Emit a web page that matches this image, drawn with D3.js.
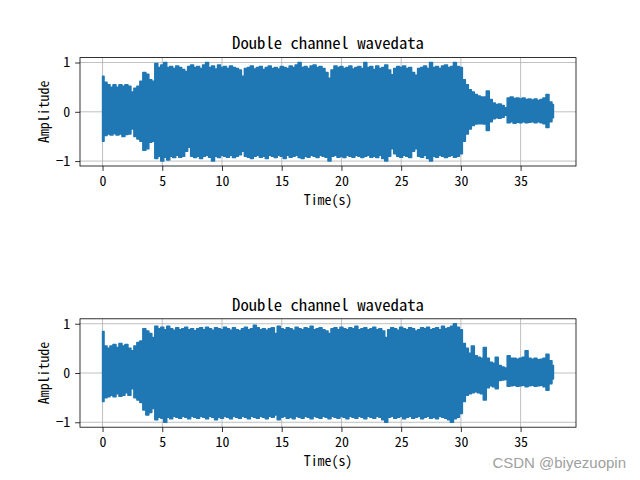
<!DOCTYPE html>
<html><head><meta charset="utf-8">
<script src="https://cdn.jsdelivr.net/npm/d3@7"></script>
<style>
html,body{margin:0;padding:0;background:#fff;}
svg{display:block;}
text{font-family:"Noto Sans Mono CJK SC","Noto Sans CJK SC","Liberation Mono",monospace;}
</style></head><body>
<svg id="chart" width="640" height="480"></svg>
<script>
// Envelope of the waveform, one value every 0.25 s (4 per line = 1 s)
const sampleStep = 0.25;
const ch1Upper = [
 0.72,0.60,0.55,0.50, 0.55,0.50,0.55,0.52, 0.55,0.52,0.40,0.48, 0.52,0.62,0.80,0.76,
 0.65,0.62,0.98,0.90, 0.95,1.00,0.90,0.92, 0.88,0.93,0.90,0.86, 0.82,0.92,0.95,0.90,
 0.92,0.88,0.95,1.00, 0.90,0.93,0.87,0.95, 0.90,0.92,0.88,0.93, 0.90,0.88,0.85,0.72,
 0.88,0.90,0.93,0.87, 0.90,0.92,0.86,0.90, 0.93,0.88,0.90,0.87, 0.92,0.90,0.88,0.93,
 0.90,0.95,1.00,0.90, 0.92,0.88,0.93,0.95, 0.90,0.92,0.88,0.80, 0.68,0.85,0.93,0.90,
 0.92,0.88,0.90,0.93, 0.87,0.90,0.92,0.88, 1.00,0.90,0.92,0.86, 0.93,0.88,0.90,0.95,
 0.85,0.75,0.88,0.92, 0.90,0.93,0.88,0.90, 0.80,0.74,0.88,0.90, 0.93,0.88,1.00,0.90,
 0.92,0.88,0.93,0.95, 0.90,0.92,1.00,0.92, 0.90,0.65,0.55,0.45, 0.40,0.35,0.32,0.30,
 0.30,0.42,0.25,0.18, 0.15,0.16,0.13,0.08, 0.28,0.30,0.27,0.28, 0.26,0.28,0.25,0.26,
 0.24,0.26,0.23,0.25, 0.28,0.35,0.20,0.15
];
const ch1Lower = [
 -0.60,-0.48,-0.45,-0.47, -0.44,-0.47,-0.45,-0.50, -0.46,-0.45,-0.35,-0.50, -0.55,-0.60,-0.78,-0.75,
 -0.62,-0.60,-0.95,-0.90, -1.00,-0.92,-0.98,-0.90, -0.93,-0.88,-0.92,-0.90, -0.80,-0.72,-0.90,-0.93,
 -0.90,-0.95,-0.90,-0.88, -0.92,-1.00,-0.90,-0.93, -0.88,-0.90,-0.92,-0.88, -0.93,-0.90,-0.87,-0.80,
 -0.90,-0.92,-0.95,-0.90, -0.88,-0.92,-0.90,-0.95, -0.88,-0.90,-0.93,-0.88, -0.90,-0.95,-0.88,-0.92,
 -0.90,-0.88,-0.93,-0.95, -0.90,-0.92,-0.88,-0.90, -0.93,-0.88,-0.90,-0.92, -1.00,-0.90,-0.88,-0.92,
 -0.90,-0.93,-0.88,-0.90, -0.92,-0.88,-0.90,-0.93, -0.90,-0.88,-0.92,-0.90, -0.93,-0.88,-0.95,-1.00,
 -0.90,-0.75,-0.85,-0.90, -0.92,-0.88,-0.90,-0.93, -0.80,-0.75,-0.90,-0.92, -0.88,-0.95,-1.00,-0.90,
 -0.92,-0.88,-0.90,-0.93, -0.90,-0.88,-0.92,-0.90, -0.85,-0.60,-0.45,-0.35, -0.28,-0.25,-0.24,-0.24,
 -0.25,-0.38,-0.20,-0.14, -0.12,-0.13,-0.11,-0.07, -0.22,-0.20,-0.23,-0.21, -0.22,-0.20,-0.22,-0.21,
 -0.20,-0.22,-0.20,-0.22, -0.24,-0.32,-0.20,-0.12
];
const ch2Upper = [
 0.84,0.55,0.50,0.55, 0.58,0.52,0.60,0.55, 0.58,0.50,0.45,0.55, 0.62,0.65,0.90,0.85,
 0.80,0.72,0.95,0.90, 0.93,0.88,0.95,0.90, 0.87,0.92,0.88,0.90, 0.93,0.88,0.90,0.86,
 0.90,0.92,0.88,0.93, 0.90,0.87,0.92,0.90, 0.88,0.93,0.90,0.87, 0.92,0.88,0.86,0.90,
 0.93,0.88,0.90,0.97, 0.92,0.88,0.90,0.87, 0.90,0.92,0.80,0.95, 0.90,0.88,0.92,0.90,
 0.87,0.93,0.90,0.88, 0.92,0.90,0.95,0.88, 0.90,0.92,0.88,0.85, 0.80,0.90,0.92,0.88,
 0.93,0.90,0.88,0.92, 0.90,0.95,0.88,0.90, 0.92,0.88,0.90,0.93, 0.88,0.90,0.85,0.72,
 0.88,0.92,0.90,0.87, 0.93,0.90,0.88,0.92, 0.90,0.85,0.88,0.92, 0.90,0.93,0.88,0.90,
 0.92,0.88,0.95,0.90, 0.92,0.95,1.00,0.93, 0.88,0.60,0.50,0.40, 0.55,0.35,0.32,0.30,
 0.52,0.30,0.22,0.20, 0.32,0.15,0.12,0.10, 0.35,0.30,0.30,0.28, 0.30,0.32,0.45,0.30,
 0.28,0.30,0.27,0.28, 0.30,0.38,0.25,0.15
];
const ch2Lower = [
 -0.58,-0.50,-0.48,-0.45, -0.48,-0.42,-0.47,-0.45, -0.40,-0.45,-0.32,-0.50, -0.55,-0.60,-0.75,-0.85,
 -0.80,-0.72,-0.95,-0.90, -0.92,-1.00,-0.90,-0.93, -0.88,-0.90,-0.92,-0.88, -0.90,-0.93,-0.88,-0.90,
 -0.92,-0.88,-0.90,-0.93, -0.88,-0.90,-0.95,-0.90, -0.92,-0.88,-0.90,-0.93, -0.88,-0.90,-0.92,-0.88,
 -0.90,-0.93,-0.88,-0.90, -0.92,-0.88,-0.90,-0.93, -0.88,-0.90,-0.85,-0.95, -0.90,-0.88,-0.92,-0.90,
 -0.93,-0.88,-0.90,-0.92, -0.88,-0.90,-0.93,-0.88, -0.90,-0.92,-0.88,-0.90, -0.93,-0.88,-0.90,-0.92,
 -0.88,-0.90,-0.93,-0.88, -0.90,-0.92,-0.88,-0.90, -0.93,-0.88,-0.90,-0.92, -0.88,-0.90,-0.95,-1.00,
 -0.90,-0.88,-0.92,-0.90, -0.88,-0.93,-0.90,-0.88, -0.92,-0.90,-0.88,-0.93, -0.90,-0.88,-0.92,-0.90,
 -0.93,-0.88,-0.90,-0.92, -0.95,-1.00,-0.93,-0.90, -0.82,-0.58,-0.45,-0.42, -0.40,-0.38,-0.40,-0.42,
 -0.55,-0.30,-0.26,-0.28, -0.32,-0.15,-0.14,-0.13, -0.27,-0.26,-0.25,-0.27, -0.26,-0.25,-0.28,-0.26,
 -0.25,-0.27,-0.26,-0.25, -0.28,-0.35,-0.22,-0.12
];
const xTicks = [0,5,10,15,20,25,30,35];
const yTicks = [-1,0,1];
const titleText = "Double channel wavedata";
const xLabelText = "Time(s)";
const yLabelText = "Amplitude";
const watermark = "CSDN @biyezuopin";

const svg = d3.select("#chart");
const W = 640, H = 480;
const left = W*0.125, right = W*0.9;
const panels = [
  {upper: ch1Upper, lower: ch1Lower, top: 57.6, bottom: 166.0},
  {upper: ch2Upper, lower: ch2Lower, top: 318.8, bottom: 427.2}
];
const blue = "#1f77b4";
const tickLen = 4.86, tickPad = 4.86;

panels.forEach(p => {
  const data = p.upper.map((u,i) => ({t: i*sampleStep, hi: u, lo: p.lower[i]}));
  const tMin = 0, tMax = d3.max(data, d => d.t);
  const tPad = (tMax - tMin)*0.05;
  const vMin = d3.min(data, d => d.lo), vMax = d3.max(data, d => d.hi);
  const vPad = (vMax - vMin)*0.05;
  const x = d3.scaleLinear().domain([tMin - tPad, tMax + tPad]).range([left, right]);
  const y = d3.scaleLinear().domain([vMin - vPad, vMax + vPad]).range([p.bottom, p.top]);

  const g = svg.append("g");
  // grid
  g.append("g").selectAll("line").data(xTicks).join("line")
    .attr("x1", d => x(d)).attr("x2", d => x(d))
    .attr("y1", p.top).attr("y2", p.bottom)
    .attr("stroke", "#b0b0b0").attr("stroke-width", 0.8);
  g.append("g").selectAll("line").data(yTicks).join("line")
    .attr("y1", d => y(d)).attr("y2", d => y(d))
    .attr("x1", left).attr("x2", right)
    .attr("stroke", "#b0b0b0").attr("stroke-width", 0.8);

  // waveform envelope
  const area = d3.area().curve(d3.curveStep).x(d => x(d.t)).y0(d => y(d.lo)).y1(d => y(d.hi));
  g.append("path").datum(data).attr("d", area)
    .attr("fill", blue).attr("stroke", blue).attr("stroke-width", 1.5)
    .attr("stroke-linejoin", "round");

  // frame
  g.append("rect").attr("x", left).attr("y", p.top)
    .attr("width", right-left).attr("height", p.bottom-p.top)
    .attr("fill", "none").attr("stroke", "#000").attr("stroke-width", 0.8);

  // axes
  const fmt = d3.format("d");
  const xa = g.append("g").attr("transform", `translate(0,${p.bottom})`)
    .call(d3.axisBottom(x).tickValues(xTicks).tickFormat(d => fmt(d)).tickSize(tickLen).tickPadding(tickPad));
  const ya = g.append("g").attr("transform", `translate(${left},0)`)
    .call(d3.axisLeft(y).tickValues(yTicks).tickFormat(d => fmt(d)).tickSize(tickLen).tickPadding(tickPad));
  [xa, ya].forEach(a => {
    a.select(".domain").remove();
    a.selectAll(".tick line").attr("stroke", "#000").attr("stroke-width", 0.8);
    a.selectAll(".tick text").attr("fill", "#000").style("font-size", "13.9px")
      .style("font-family", '"Noto Sans Mono CJK SC","Noto Sans CJK SC","Liberation Mono",monospace');
  });

  // title
  g.append("text").attr("x", (left+right)/2).attr("y", p.top - 8.3)
    .attr("text-anchor", "middle").style("font-size", "16.7px").attr("fill", "#000")
    .text(titleText);
  // x label
  g.append("text").attr("x", (left+right)/2).attr("y", p.bottom + 39)
    .attr("text-anchor", "middle").style("font-size", "13.9px").attr("fill", "#000")
    .text(xLabelText);
  // y label
  g.append("text")
    .attr("transform", `translate(${49},${(p.top+p.bottom)/2}) rotate(-90)`)
    .attr("text-anchor", "middle").style("font-size", "13.9px").attr("fill", "#000")
    .text(yLabelText);
});

svg.append("text").attr("x", 626).attr("y", 468).attr("text-anchor", "end")
  .style("font-family", '"Liberation Sans", Arial, sans-serif').style("font-size", "15px")
  .attr("fill", "#a0a0a0").text(watermark);
</script>
</body></html>
